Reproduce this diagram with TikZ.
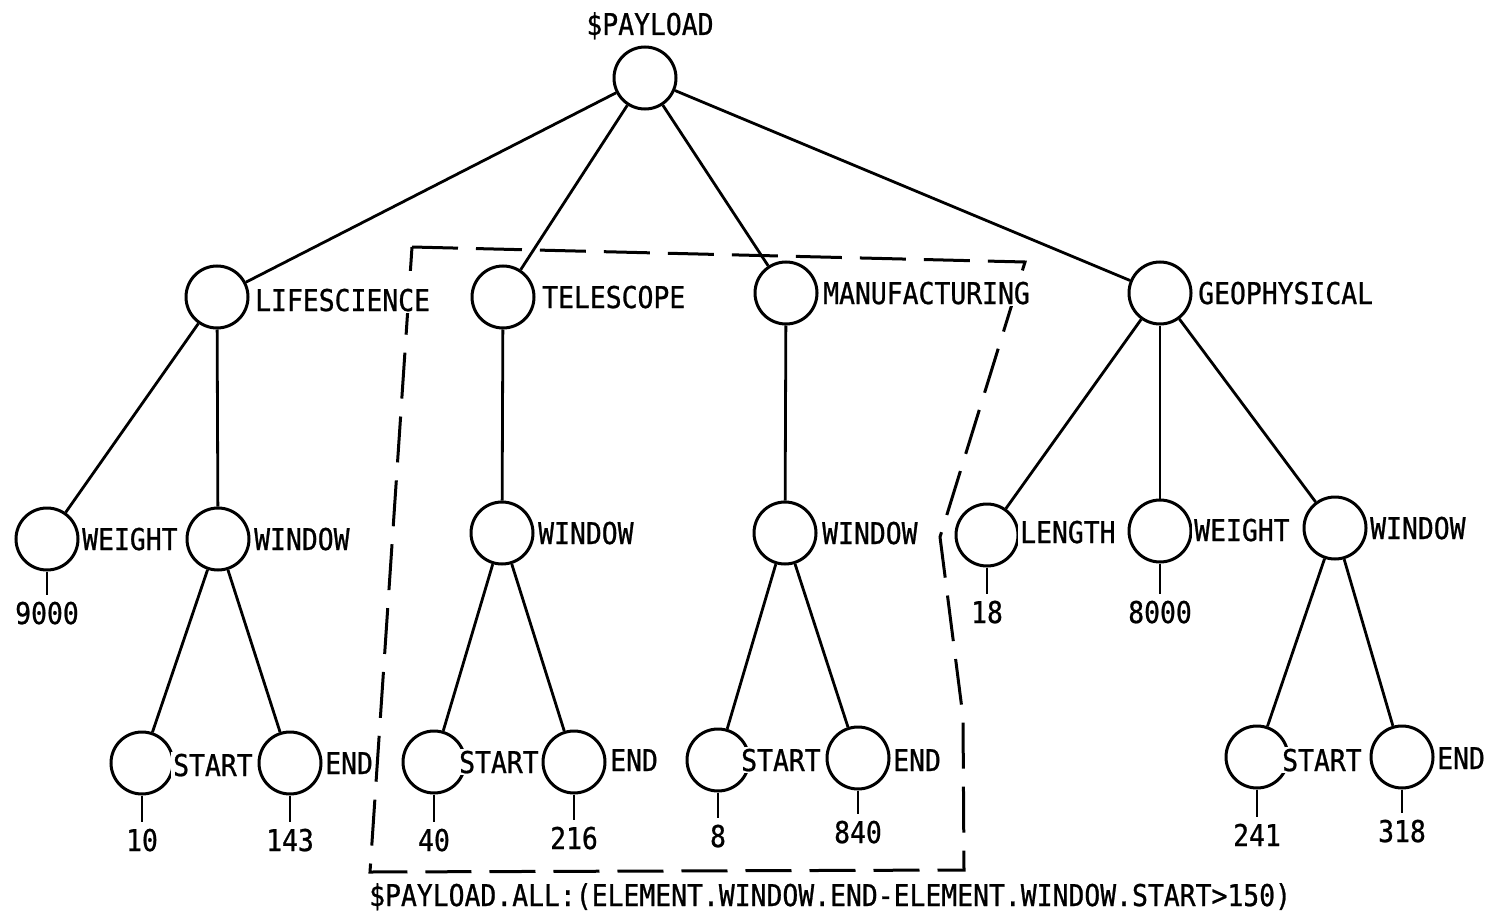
\documentclass[tikz,border=0pt]{standalone}
\usepackage{fontspec}
\newfontfamily\treefont{DejaVu Sans Mono}[FakeStretch=0.88,FakeBold=0.8]
\newcommand\treetext{\treefont\fontsize{30pt}{32pt}\selectfont}
\begin{document}
\begin{tikzpicture}[x=1pt,y=-1pt,
  vertex/.style={circle,draw,line width=3pt,minimum size=62pt,inner sep=0pt},
  tag/.style={anchor=west,fill=white,inner sep=2pt,text height=22pt,text depth=0pt,font=\treetext},
  val/.style={inner sep=0pt,outer sep=7pt,text height=22pt,text depth=0pt,font=\treetext},
  edge/.style={line width=2.8pt},
  frame/.style={line width=3pt,dash pattern=on 46pt off 18pt}]

% page
\fill[white] (0,0) rectangle (1498,920);
\useasboundingbox (0,0) rectangle (1498,920);

% selected subtrees
\draw[frame] (412,247) -- (1025,262) -- (940,537) -- (963,717) -- (964,870) -- (370,872) -- cycle;

% tree nodes
\node[vertex] (root)   at (645,78)   {};
\node[vertex] (ls)     at (217,297)  {};
\node[vertex] (tel)    at (503,297)  {};
\node[vertex] (man)    at (786,293)  {};
\node[vertex] (geo)    at (1160,293) {};
\node[vertex] (lsw)    at (47,539)   {};
\node[vertex] (lswin)  at (218,539)  {};
\node[vertex] (lss)    at (142,763)  {};
\node[vertex] (lse)    at (290,763)  {};
\node[vertex] (telwin) at (502,533)  {};
\node[vertex] (tels)   at (434,762)  {};
\node[vertex] (tele)   at (574,762)  {};
\node[vertex] (manwin) at (785,533)  {};
\node[vertex] (mans)   at (718,760)  {};
\node[vertex] (mane)   at (858,758)  {};
\node[vertex] (geol)   at (987,535)  {};
\node[vertex] (geow)   at (1160,531) {};
\node[vertex] (geowin) at (1335,528) {};
\node[vertex] (geos)   at (1257,757) {};
\node[vertex] (geoe)   at (1402,757) {};

% leaf values
\node[val] (v1)  at (47,613)   {9000};
\node[val] (v2)  at (142,840)  {10};
\node[val] (v3)  at (290,840)  {143};
\node[val] (v4)  at (434,840)  {40};
\node[val] (v5)  at (574,838)  {216};
\node[val] (v6)  at (718,836)  {8};
\node[val] (v7)  at (858,832)  {840};
\node[val] (v8)  at (987,612)  {18};
\node[val] (v9)  at (1160,612) {8000};
\node[val] (v10) at (1257,835) {241};
\node[val] (v11) at (1402,831) {318};

% branches
\draw[edge] (root) -- (ls);
\draw[edge] (root) -- (tel);
\draw[edge] (root) -- (man);
\draw[edge] (root) -- (geo);
\draw[edge] (ls) -- (lsw);
\draw[edge] (ls) -- (lswin);
\draw[edge] (lswin) -- (lss);
\draw[edge] (lswin) -- (lse);
\draw[edge] (tel) -- (telwin);
\draw[edge] (telwin) -- (tels);
\draw[edge] (telwin) -- (tele);
\draw[edge] (man) -- (manwin);
\draw[edge] (manwin) -- (mans);
\draw[edge] (manwin) -- (mane);
\draw[edge] (geo) -- (geol);
\draw[edge] (geo) -- (geow);
\draw[edge] (geo) -- (geowin);
\draw[edge] (geowin) -- (geos);
\draw[edge] (geowin) -- (geoe);

% value stubs
\draw[edge] (lsw) -- (v1);
\draw[edge] (lss) -- (v2);
\draw[edge] (lse) -- (v3);
\draw[edge] (tels) -- (v4);
\draw[edge] (tele) -- (v5);
\draw[edge] (mans) -- (v6);
\draw[edge] (mane) -- (v7);
\draw[edge] (geol) -- (v8);
\draw[edge] (geow) -- (v9);
\draw[edge] (geos) -- (v10);
\draw[edge] (geoe) -- (v11);

% names
\node[font=\treetext,text height=22pt,text depth=0pt,inner sep=0pt] (title) at (650,24) {\$PAYLOAD};
\node[tag] (t1)  at (253,300)  {LIFESCIENCE};
\node[tag] (t2)  at (540,297)  {TELESCOPE};
\node[tag] (t3)  at (821,293)  {MANUFACTURING};
\node[tag] (t4)  at (1196,293) {GEOPHYSICAL};
\node[tag] (t5)  at (80,539)   {WEIGHT};
\node[tag] (t6)  at (252,539)  {WINDOW};
\node[tag] (t7)  at (536,533)  {WINDOW};
\node[tag] (t8)  at (820,533)  {WINDOW};
\node[tag] (t9)  at (1018,532) {LENGTH};
\node[tag] (t10) at (1192,530) {WEIGHT};
\node[tag] (t11) at (1368,528) {WINDOW};
\node[tag] (t12) at (171,765)  {START};
\node[tag] (t13) at (323,763)  {END};
\node[tag] (t14) at (457,762)  {START};
\node[tag] (t15) at (608,760)  {END};
\node[tag] (t16) at (739,760)  {START};
\node[tag] (t17) at (891,760)  {END};
\node[tag] (t18) at (1280,760) {START};
\node[tag] (t19) at (1435,758) {END};

% query
\node[tag] (query) at (367,895) {\$PAYLOAD.ALL:(ELEMENT.WINDOW.END-ELEMENT.WINDOW.START>150)};
\end{tikzpicture}
\end{document}
